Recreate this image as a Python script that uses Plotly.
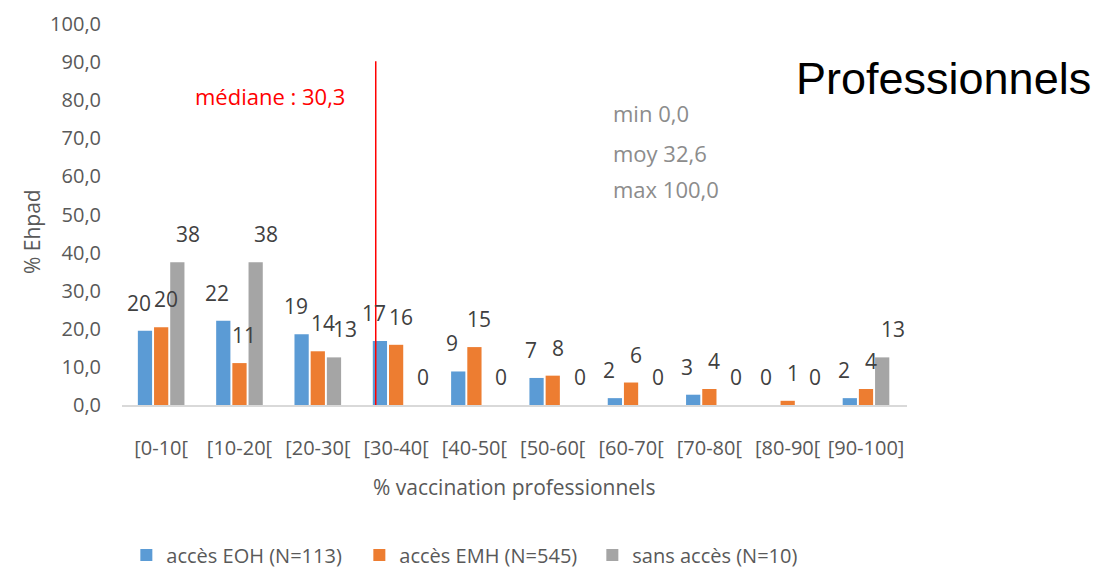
import math
import plotly.graph_objects as go

categories = ["[0-10[", "[10-20[", "[20-30[", "[30-40[", "[40-50[", "[50-60[",
              "[60-70[", "[70-80[", "[80-90[", "[90-100]"]
eoh = [19.5, 22.1, 18.6, 16.8, 8.8, 7.1, 1.8, 2.7, 0.0, 1.8]
emh = [20.4, 11.0, 14.1, 15.8, 15.2, 7.7, 5.9, 4.2, 1.1, 4.2]
sans = [37.5, 37.5, 12.5, 0.0, 0.0, 0.0, 0.0, 0.0, 0.0, 12.5]
series_names = ["accès EOH (N=113)", "accès EMH (N=545)", "sans accès (N=10)"]
colors = ["#5B9BD5", "#ED7D31", "#A5A5A5"]
y_ticks = [0, 10, 20, 30, 40, 50, 60, 70, 80, 90, 100]
median_label = "médiane : 30,3"
stats_lines = ["min 0,0", "moy 32,6", "max 100,0"]


def round_half_up(v):
    return int(math.floor(v + 0.5))


FONT = "Open Sans"
fig = go.Figure()
for name, vals, col in zip(series_names, [eoh, emh, sans], colors):
    fig.add_trace(go.Bar(x=categories, y=vals, name=name, marker_color=col,
                         marker_line_width=0))

annotations = []
label_shift = [-22, 5, 27]
for vals, xs in zip([eoh, emh, sans], label_shift):
    for c, v in zip(categories, vals):
        annotations.append(dict(x=c, y=v, xref="x", yref="y", text=str(round_half_up(v)),
                                showarrow=False, yanchor="middle", xshift=xs, yshift=28,
                                font=dict(family=FONT, size=21, color="#404040")))

# paper positions (plot area: 114..899 x, 16..397 y in figure px)
annotations.append(dict(x=0.287, y=0.812, xref="paper", yref="paper", text=median_label,
                        showarrow=False, xanchor="right", yanchor="middle",
                        font=dict(family=FONT, size=22, color="#FF0000")))
for t, yy in zip(stats_lines, [0.766, 0.661, 0.566]):
    annotations.append(dict(x=0.623, y=yy, xref="paper", yref="paper", text=t,
                            showarrow=False, xanchor="left", yanchor="middle",
                            font=dict(family=FONT, size=22, color="#8C8C8C")))
annotations.append(dict(x=1.237, y=0.858, xref="paper", yref="paper", text="Professionnels",
                        showarrow=False, xanchor="right", yanchor="middle",
                        font=dict(family="Liberation Sans", size=45, color="#000000")))
annotations.append(dict(x=-0.1146, y=0.454, xref="paper", yref="paper", text="% Ehpad",
                        showarrow=False, textangle=-90, xanchor="center", yanchor="middle",
                        font=dict(family=FONT, size=21, color="#595959")))
annotations.append(dict(x=0.499, y=-0.216, xref="paper", yref="paper",
                        text="% vaccination professionnels",
                        showarrow=False, xanchor="center", yanchor="middle",
                        font=dict(family=FONT, size=21, color="#595959")))

fig.add_shape(type="line", xref="x", yref="y", x0=2.74, x1=2.74, y0=-1.3, y1=90.2,
              line=dict(color="#FF0000", width=1.5))

# page body has an 8px default margin; compensate by shrinking the figure
fig.update_layout(
    width=1106, height=564,
    margin=dict(l=114, r=207, t=16, b=167),
    paper_bgcolor="white", plot_bgcolor="white",
    separators=", ",
    barmode="group", bargap=0.38, bargroupgap=0.12,
    showlegend=True,
    legend=dict(orientation="h", xref="container", yref="container",
                x=0.107, y=0.03, xanchor="left", yanchor="middle",
                font=dict(family=FONT, size=20, color="#595959"),
                entrywidth=188, entrywidthmode="pixels", itemwidth=30),
    annotations=annotations,
    font=dict(family=FONT),
)
fig.update_yaxes(range=[0, 100], tickvals=y_ticks, tickformat=".1f", showgrid=False,
                 zeroline=False, showline=False, ticks="", automargin=False,
                 tickfont=dict(family=FONT, size=20, color="#595959"),
                 ticklabelstandoff=20, ticklabeloverflow="allow")
fig.update_xaxes(showgrid=False, showline=True, linecolor="#D9D9D9", linewidth=1.5,
                 ticks="", automargin=False,
                 tickfont=dict(family=FONT, size=20, color="#595959"),
                 ticklabelstandoff=24)

fig.write_html("out.html")
